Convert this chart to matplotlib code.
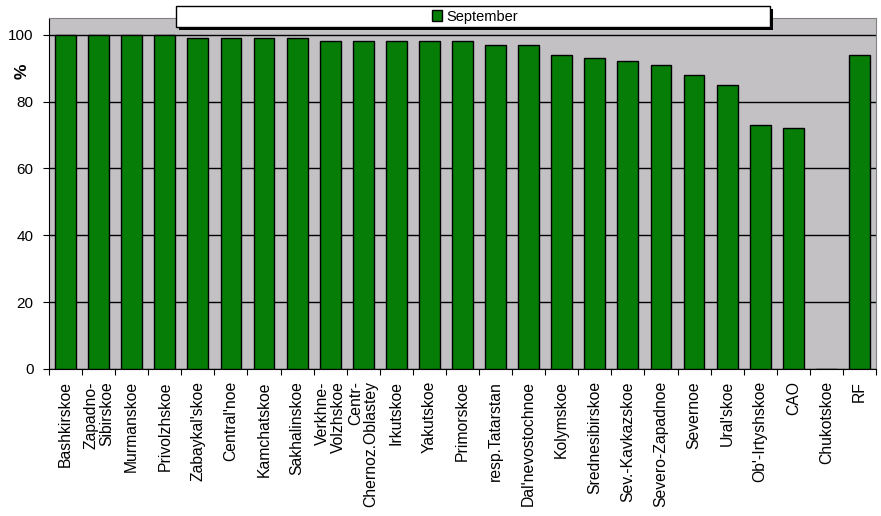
import numpy as np
import matplotlib
matplotlib.use('Agg')
from matplotlib import pyplot as plt
from matplotlib.patches import Rectangle, Patch

plt.rcParams['font.family'] = ['Liberation Sans', 'DejaVu Sans']

regions = ["Bashkirskoe", "Zapadno-\nSibirskoe", "Murmanskoe", "Privolzhskoe",
           "Zabaykal'skoe", "Central'noe", "Kamchatskoe", "Sakhalinskoe",
           "Verkhne-\nVolzhskoe", "Centr-\nChernoz.Oblastey", "Irkutskoe", "Yakutskoe",
           "Primorskoe", "resp.Tatarstan", "Dal'nevostochnoe", "Kolymskoe",
           "Srednesibirskoe", "Sev.-Kavkazskoe", "Severo-Zapadnoe", "Severnoe",
           "Ural'skoe", "Ob'-Irtyshskoe", "CAO", "Chukotskoe", "RF"]
september = [100, 100, 100, 100, 99, 99, 99, 99, 98, 98, 98, 98,
             98, 97, 97, 94, 93, 92, 91, 88, 85, 73, 72, 0, 94]
yticks = [0, 20, 40, 60, 80, 100]

green = '#067d06'


def main():
    fig = plt.figure(figsize=(8.81, 5.16), dpi=100)
    ax = fig.add_axes([49/881, 1 - 369/516, 827/881, 351/516])
    ax.set_facecolor('#c3c1c4')

    x = np.arange(len(regions))
    ax.bar(x, september, width=0.63, color=green, edgecolor='black',
           linewidth=1, zorder=3)

    ax.set_xlim(-0.5, len(regions) - 0.5)
    ax.set_ylim(0, 105)
    ax.set_yticks(yticks)
    ax.yaxis.grid(True, color='black', linewidth=1, zorder=1)
    ax.set_axisbelow(True)
    ax.tick_params(axis='y', labelsize=11, length=4, direction='out', pad=7)

    # ticks between categories, labels at category centres
    ax.set_xticks(np.arange(len(regions) + 1) - 0.5)
    ax.set_xticklabels([])
    ax.tick_params(axis='x', length=4, direction='out')
    for i, name in enumerate(regions):
        ax.text(i, -3.6, name, rotation=90, ha='center', va='top',
                multialignment='right', fontsize=11.3, linespacing=1.05,
                transform=ax.transData)

    ax.spines['top'].set_color('#808080')
    ax.spines['right'].set_color('#808080')

    fig.text(22/881, 1 - 71/516, '%', rotation=90, fontsize=12.5,
             fontweight='bold', ha='center', va='center')

    # legend box with shadow
    fig.patches.append(Rectangle((179/881, 1 - 30/516), 594/881, 21/516,
                                 transform=fig.transFigure, facecolor='black',
                                 edgecolor='none', zorder=5))
    fig.patches.append(Rectangle((176/881, 1 - 27/516), 594/881, 21/516,
                                 transform=fig.transFigure, facecolor='white',
                                 edgecolor='black', linewidth=1, zorder=6))
    leg = fig.legend(handles=[Patch(facecolor=green, edgecolor='black',
                                    label='September')],
                     loc='center', bbox_to_anchor=(475/881, 1 - 16.5/516),
                     frameon=False, fontsize=10.5, handlelength=0.7,
                     handleheight=0.7, handletextpad=0.3)
    leg.set_zorder(7)

    fig.savefig('out.png', dpi=100)


if __name__ == '__main__':
    main()
